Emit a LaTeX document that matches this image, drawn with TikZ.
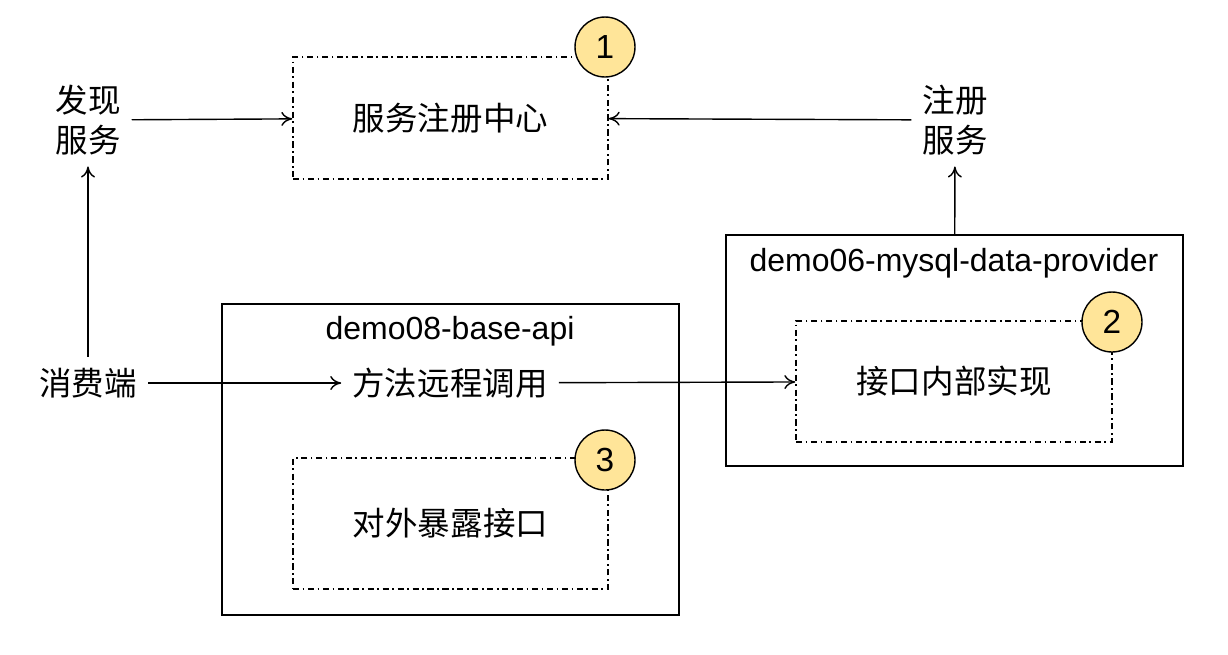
\documentclass[tikz,border=0pt]{standalone}
\usepackage{fontspec}
\setmainfont{Liberation Sans}
\newfontfamily\cjk{Noto Sans CJK SC}
\usetikzlibrary{arrows.meta,positioning}
\definecolor{badgeyellow}{RGB}{255,229,153}

\begin{document}
\begin{tikzpicture}[
      x=0.02cm, y=-0.02cm,
      line width=0.8pt,
      cn/.style={font=\cjk\fontsize{18.5}{23}\selectfont, align=center, inner sep=6pt},
      title/.style={font=\fontsize{18.2}{21}\selectfont, inner sep=0pt},
      dashbox/.style={draw, dash pattern=on 3.5pt off 2pt on 1pt off 2pt,
        font=\cjk\fontsize{18.5}{23}\selectfont},
      frame/.style={draw, line width=0.75pt},
      badge/.style={draw, circle, fill=badgeyellow, minimum size=1.2cm,
        inner sep=0pt, font=\fontsize{19}{22}\selectfont},
      arr/.style={-{To[length=2.2mm,width=2.8mm]}}
    ]
    \useasboundingbox (0,0) rectangle (1228,654);

    % outer module boxes
    \node[frame, minimum width=9.14cm, minimum height=4.62cm] (prov) at (954.5,350.5) {};
    \node[frame, minimum width=9.14cm, minimum height=6.22cm] (api) at (450.5,459.5) {};
    \node[title] (provname) at (954,263) {demo06-mysql-data-provider};
    \node[title] (apiname) at (450,331) {demo08-base-api};

    % dash-dotted blocks
    \node[dashbox, minimum width=6.3cm, minimum height=2.44cm] (reg) at (450.5,118) {服务注册中心};
    \node[dashbox, minimum width=6.32cm, minimum height=2.42cm] (impl) at (954,381.5) {接口内部实现};
    \node[dashbox, minimum width=6.3cm, minimum height=2.62cm] (expose) at (450.5,523.5) {对外暴露接口};

    % labels
    \node[cn] (find) at (88,120) {发现\\服务};
    \node[cn] (regsvc) at (955,120) {注册\\服务};
    \node[cn] (consumer) at (88,383) {消费端};
    \node[cn] (call) at (450,383) {方法远程调用};

    % numbered badges
    \node[badge] (b1) at (605,47) {1};
    \node[badge] (b2) at (1112,322) {2};
    \node[badge] (b3) at (605,460) {3};

    % connectors
    \draw[arr] (find) -- (reg);
    \draw[arr] (regsvc) -- (reg);
    \draw[arr] (consumer) -- (find);
    \draw[arr] (prov) -- (regsvc);
    \draw[arr] (consumer) -- (call);
    \draw[arr] (call) -- (impl);
  \end{tikzpicture}
\end{document}
